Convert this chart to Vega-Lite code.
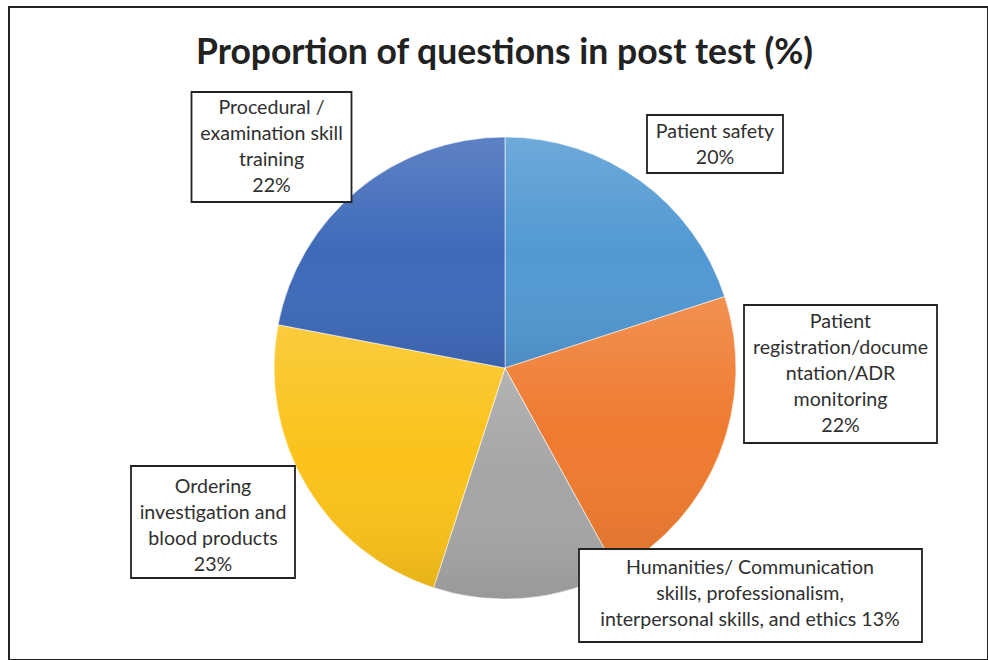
{
  "$schema": "https://vega.github.io/schema/vega-lite/v6.json",
  "autosize": {"type": "none"},
  "width": 979,
  "height": 653,
  "padding": {"left": 9, "top": 7, "right": 0, "bottom": 0},
  "background": "white",
  "view": {"stroke": "#222222", "strokeWidth": 2, "fill": "white"},
  "config": {"view": {"stroke": "#222222", "strokeWidth": 2}},
  "title": {
    "text": "Proportion of questions in post test (%)",
    "anchor": "middle",
    "frame": "group",
    "baseline": "alphabetic",
    "offset": -55,
    "dx": 6,
    "dy": 37,
    "font": "Lato",
    "fontSize": 35.5,
    "fontWeight": "bold",
    "color": "#222222"
  },
  "data": {
    "values": [
      {"order": 1, "category": "Patient safety", "value": 20, "label": ["Patient safety", "20%"]},
      {"order": 2, "category": "Patient registration/documentation/ADR monitoring", "value": 22, "label": ["Patient", "registration/docume", "ntation/ADR", "monitoring", "22%"]},
      {"order": 3, "category": "Humanities/ Communication skills, professionalism, interpersonal skills, and ethics", "value": 13, "label": ["Humanities/ Communication", "skills, professionalism,", "interpersonal skills, and ethics 13%"]},
      {"order": 4, "category": "Ordering investigation and blood products", "value": 23, "label": ["Ordering", "investigation and", "blood products", "23%"]},
      {"order": 5, "category": "Procedural / examination skill training", "value": 22, "label": ["Procedural /", "examination skill", "training", "22%"]}
    ]
  },
  "layer": [
    {
      "mark": {"type": "arc", "outerRadius": 231, "xOffset": 6.5, "yOffset": 34.5, "stroke": "white", "strokeWidth": 0.6},
      "encoding": {
        "theta": {"field": "value", "type": "quantitative", "stack": true},
        "order": {"field": "order", "type": "quantitative", "sort": "ascending"},
        "color": {
          "field": "category",
          "type": "nominal",
          "legend": null,
          "scale": {
            "domain": ["Patient safety", "Patient registration/documentation/ADR monitoring", "Humanities/ Communication skills, professionalism, interpersonal skills, and ethics", "Ordering investigation and blood products", "Procedural / examination skill training"],
            "range": ["#5299D3", "#EF7B30", "#A5A5A5", "#FBC21A", "#3F6AB9"]
          }
        }
      }
    },
    {
      "mark": {
        "type": "arc", "outerRadius": 231, "xOffset": 6.5, "yOffset": 34.5,
        "fill": {"gradient": "linear", "x1": 0, "y1": 0, "x2": 0, "y2": 1,
          "stops": [
            {"offset": 0, "color": "rgba(255,255,255,0.16)"},
            {"offset": 0.5, "color": "rgba(255,255,255,0)"},
            {"offset": 1, "color": "rgba(0,0,0,0.08)"}
          ]}
      },
      "encoding": {
        "theta": {"field": "value", "type": "quantitative", "stack": true},
        "order": {"field": "order", "type": "quantitative", "sort": "ascending"}
      }
    },
    {
      "transform": [{"filter": {"field": "order", "equal": 1}}],
      "layer": [
        {"mark": {"type": "point", "shape": "M-1,-0.4265H1V0.4265H-1Z", "size": 18496, "filled": true, "fill": "white", "stroke": "#222222", "strokeWidth": 1.8, "opacity": 1, "xOffset": 216.5, "yOffset": -189.5}, "encoding": {}},
        {"mark": {"type": "text", "font": "Lato", "fontSize": 19.6, "lineHeight": 26, "align": "center", "baseline": "middle", "color": "#303030", "xOffset": 216.5, "yOffset": -201.5}, "encoding": {"text": {"field": "label"}}}
      ]
    },
    {
      "transform": [{"filter": {"field": "order", "equal": 2}}],
      "layer": [
        {"mark": {"type": "point", "shape": "M-1,-0.715H1V0.715H-1Z", "size": 37249, "filled": true, "fill": "white", "stroke": "#222222", "strokeWidth": 1.8, "opacity": 1, "xOffset": 342, "yOffset": 40.5}, "encoding": {}},
        {"mark": {"type": "text", "font": "Lato", "fontSize": 19.6, "lineHeight": 26, "align": "center", "baseline": "middle", "color": "#303030", "xOffset": 342, "yOffset": -11.5}, "encoding": {"text": {"field": "label"}}}
      ]
    },
    {
      "transform": [{"filter": {"field": "order", "equal": 3}}],
      "layer": [
        {"mark": {"type": "point", "shape": "M-1,-0.2711H1V0.2711H-1Z", "size": 117649, "filled": true, "fill": "white", "stroke": "#222222", "strokeWidth": 1.8, "opacity": 1, "xOffset": 252, "yOffset": 262}, "encoding": {}},
        {"mark": {"type": "text", "font": "Lato", "fontSize": 19.6, "lineHeight": 26, "align": "center", "baseline": "middle", "color": "#303030", "xOffset": 251.5, "yOffset": 234.5}, "encoding": {"text": {"field": "label"}}}
      ]
    },
    {
      "transform": [{"filter": {"field": "order", "equal": 4}}],
      "layer": [
        {"mark": {"type": "point", "shape": "M-1,-0.683H1V0.683H-1Z", "size": 26896, "filled": true, "fill": "white", "stroke": "#222222", "strokeWidth": 1.8, "opacity": 1, "xOffset": -285.5, "yOffset": 188.5}, "encoding": {}},
        {"mark": {"type": "text", "font": "Lato", "fontSize": 19.6, "lineHeight": 26, "align": "center", "baseline": "middle", "color": "#303030", "xOffset": -285.5, "yOffset": 153.5}, "encoding": {"text": {"field": "label"}}}
      ]
    },
    {
      "transform": [{"filter": {"field": "order", "equal": 5}}],
      "layer": [
        {"mark": {"type": "point", "shape": "M-1,-0.6875H1V0.6875H-1Z", "size": 25600, "filled": true, "fill": "white", "stroke": "#222222", "strokeWidth": 1.8, "opacity": 1, "xOffset": -227, "yOffset": -186.5}, "encoding": {}},
        {"mark": {"type": "text", "font": "Lato", "fontSize": 19.6, "lineHeight": 26, "align": "center", "baseline": "middle", "color": "#303030", "xOffset": -227, "yOffset": -225.5}, "encoding": {"text": {"field": "label"}}}
      ]
    }
  ]
}
